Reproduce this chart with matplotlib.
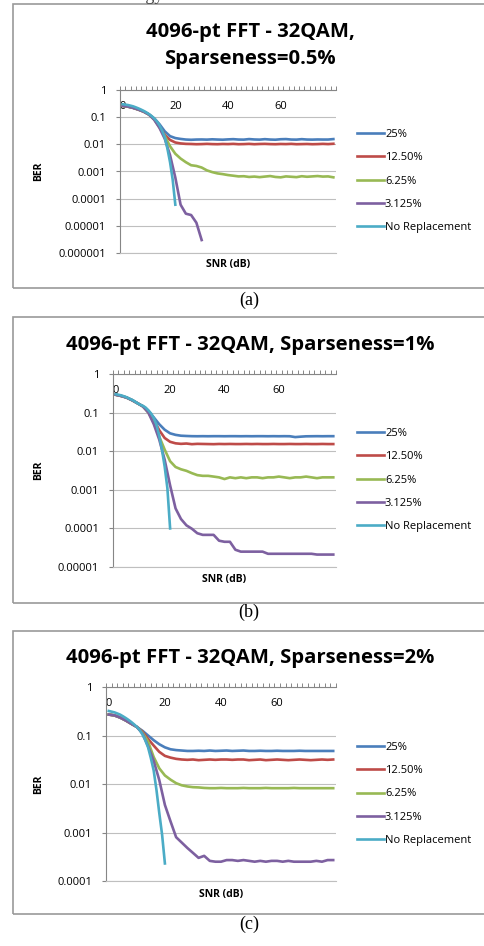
import matplotlib
matplotlib.use('Agg')
import matplotlib.pyplot as plt
from matplotlib.patches import Rectangle
from matplotlib.ticker import FixedLocator, FixedFormatter, NullLocator

W, H = 485, 946

# SNR (dB) values
snr = list(range(0, 82, 2))
snr_fine = list(range(0, 21))
snr_short = list(range(0, 32, 2))

labels = ['25%', '12.50%', '6.25%', '3.125%', 'No Replacement']
colors = ['#4A7EBB', '#BE4B48', '#98B954', '#7D60A0', '#4BACC6']

# (a) sparseness 0.5%
blue_a = [0.26, 0.245, 0.22, 0.19, 0.16, 0.125, 0.09, 0.055, 0.03, 0.02,
          0.017, 0.0158, 0.015, 0.0147, 0.015, 0.0151, 0.0149, 0.0153, 0.015, 0.0148,
          0.0152, 0.0155, 0.015, 0.0149, 0.0156, 0.0151, 0.0149, 0.0155, 0.015, 0.0148,
          0.0154, 0.0156, 0.015, 0.0149, 0.0155, 0.015, 0.0149, 0.0151, 0.015, 0.015,
          0.0156]
red_a = [0.26, 0.245, 0.22, 0.19, 0.16, 0.125, 0.085, 0.045, 0.022, 0.0145,
         0.0117, 0.0108, 0.0104, 0.0103, 0.0101, 0.0102, 0.0104, 0.0102, 0.0101, 0.0103,
         0.0102, 0.0104, 0.0101, 0.0102, 0.0104, 0.0101, 0.0103, 0.0104, 0.0102, 0.0101,
         0.0103, 0.0102, 0.0104, 0.0101, 0.0102, 0.0103, 0.0101, 0.0102, 0.0104, 0.0102,
         0.0105]
green_a = [0.26, 0.245, 0.22, 0.19, 0.16, 0.125, 0.082, 0.042, 0.02, 0.0085,
           0.0045, 0.003, 0.0022, 0.0017, 0.0016, 0.0014, 0.0011, 0.00095, 0.00085, 0.0008,
           0.00074, 0.0007, 0.00066, 0.00067, 0.00063, 0.00065, 0.00062, 0.00065, 0.00068, 0.00063,
           0.00061, 0.00066, 0.00064, 0.00062, 0.00067, 0.00064, 0.00066, 0.00068, 0.00065, 0.00066,
           0.00061]
purple_a = [0.26, 0.245, 0.22, 0.19, 0.16, 0.125, 0.08, 0.04, 0.016, 0.004,
            0.0006, 0.00006, 0.000028, 0.000025, 0.000013, 0.000003]
cyan_a = [0.3, 0.29, 0.28, 0.265, 0.25, 0.23, 0.21, 0.19, 0.17, 0.15,
          0.13, 0.11, 0.09, 0.07, 0.05, 0.032, 0.018, 0.007, 0.0022, 0.0005, 0.00006]

# (b) sparseness 1%
blue_b = [0.29, 0.27, 0.245, 0.21, 0.175, 0.145, 0.11, 0.075, 0.05, 0.036,
          0.029, 0.0265, 0.0252, 0.0248, 0.0245, 0.0244, 0.0245, 0.0244, 0.0245, 0.0245,
          0.0244, 0.0245, 0.0245, 0.0244, 0.0245, 0.0244, 0.0245, 0.0245, 0.0244, 0.0245,
          0.0244, 0.0245, 0.0244, 0.0232, 0.0238, 0.0243, 0.0244, 0.0245, 0.0244, 0.0245,
          0.0245]
red_b = [0.29, 0.27, 0.245, 0.21, 0.175, 0.145, 0.105, 0.065, 0.035, 0.022,
         0.0175, 0.016, 0.0155, 0.0158, 0.0152, 0.0155, 0.0154, 0.0153, 0.0152, 0.0154,
         0.0153, 0.0154, 0.0153, 0.0153, 0.0154, 0.0153, 0.0154, 0.0153, 0.0153, 0.0154,
         0.0153, 0.0153, 0.0154, 0.0153, 0.0153, 0.0154, 0.0153, 0.0153, 0.0154, 0.0153,
         0.0153]
green_b = [0.29, 0.27, 0.245, 0.21, 0.175, 0.145, 0.1, 0.055, 0.024, 0.011,
           0.0055, 0.0039, 0.0034, 0.0031, 0.0027, 0.0024, 0.0023, 0.0023, 0.0022, 0.0021,
           0.0019, 0.0021, 0.002, 0.0021, 0.002, 0.0021, 0.0021, 0.002, 0.0021, 0.0021,
           0.0022, 0.0021, 0.002, 0.0021, 0.0021, 0.0022, 0.0021, 0.002, 0.0021, 0.0021,
           0.0021]
purple_b = [0.29, 0.27, 0.245, 0.21, 0.175, 0.145, 0.1, 0.05, 0.02, 0.006,
            0.0013, 0.00033, 0.000175, 0.00012, 0.000098, 0.000075, 0.000068, 0.000068, 0.000068, 0.000048,
            0.000045, 0.000045, 0.000028, 0.000025, 0.000025, 0.000025, 0.000025, 0.000025, 0.000022, 0.000022,
            0.000022, 0.000022, 0.000022, 0.000022, 0.000022, 0.000022, 0.000022, 0.000021, 0.000021, 0.000021,
            0.000021]
cyan_b = [0.3, 0.29, 0.28, 0.265, 0.25, 0.23, 0.215, 0.195, 0.175, 0.16,
          0.15, 0.135, 0.115, 0.095, 0.072, 0.048, 0.025, 0.011, 0.004, 0.0011, 0.0001]

# (c) sparseness 2%
blue_c = [0.27, 0.26, 0.235, 0.205, 0.175, 0.15, 0.125, 0.1, 0.08, 0.066,
          0.057, 0.052, 0.05, 0.049, 0.048, 0.048, 0.0485, 0.048, 0.049, 0.048,
          0.0485, 0.049, 0.048, 0.0485, 0.049, 0.048, 0.048, 0.0485, 0.048, 0.048,
          0.0485, 0.048, 0.048, 0.048, 0.0485, 0.048, 0.048, 0.048, 0.048, 0.048,
          0.048]
red_c = [0.27, 0.26, 0.235, 0.205, 0.175, 0.15, 0.12, 0.085, 0.062, 0.046,
         0.038, 0.035, 0.033, 0.032, 0.0315, 0.032, 0.031, 0.0315, 0.032, 0.0315,
         0.032, 0.032, 0.0315, 0.032, 0.032, 0.031, 0.0315, 0.032, 0.031, 0.0315,
         0.032, 0.0315, 0.031, 0.0315, 0.032, 0.0315, 0.031, 0.0315, 0.032, 0.0315,
         0.032]
green_c = [0.27, 0.26, 0.235, 0.205, 0.175, 0.15, 0.115, 0.075, 0.036, 0.021,
           0.015, 0.0123, 0.0104, 0.0094, 0.0089, 0.0086, 0.0085, 0.0083, 0.0082, 0.0082,
           0.0083, 0.0082, 0.0082, 0.0082, 0.0083, 0.0082, 0.0082, 0.0082, 0.0083, 0.0082,
           0.0082, 0.0082, 0.0082, 0.0083, 0.0082, 0.0082, 0.0082, 0.0082, 0.0082, 0.0082,
           0.0082]
purple_c = [0.27, 0.26, 0.235, 0.205, 0.175, 0.15, 0.11, 0.06, 0.03, 0.012,
            0.0037, 0.0017, 0.0008, 0.00062, 0.00048, 0.00038, 0.0003, 0.00033, 0.00026, 0.00025,
            0.00025, 0.00027, 0.00027, 0.00026, 0.00027, 0.00026, 0.00025, 0.00026, 0.00025, 0.00026,
            0.00026, 0.00025, 0.00026, 0.00025, 0.00025, 0.00025, 0.00025, 0.00026, 0.00025, 0.00027,
            0.00027]
cyan_c = [0.32, 0.31, 0.3, 0.285, 0.27, 0.25, 0.23, 0.21, 0.19, 0.17,
          0.15, 0.13, 0.105, 0.08, 0.057, 0.034, 0.019, 0.0075, 0.0025, 0.0009, 0.00023]

ytick_a = [1, 0.1, 0.01, 0.001, 0.0001, 0.00001, 0.000001]
ylab_a = ['1', '0.1', '0.01', '0.001', '0.0001', '0.00001', '0.000001']
ytick_b = [1, 0.1, 0.01, 0.001, 0.0001, 0.00001]
ylab_b = ['1', '0.1', '0.01', '0.001', '0.0001', '0.00001']
ytick_c = [1, 0.1, 0.01, 0.001, 0.0001]
ylab_c = ['1', '0.1', '0.01', '0.001', '0.0001']
xtick = [0, 20, 40, 60]

FONT = 'Open Sans'
GRID = '#BFBFBF'
AXC = '#868686'


def fx(x):
    return x / W


def fy(y):
    return 1 - y / H


fig = plt.figure(figsize=(W / 100, H / 100), dpi=100)
fig.patch.set_facecolor('white')

# cut-off text line from the page above
fig.text(fx(167), fy(0), 'selection technology.', ha='right', va='baseline',
         family='Liberation Serif', fontsize=13, color='#444444')

panels = [
    dict(box=(4, 288), ax=(120, 90, 336, 253), title=['4096-pt FFT - 32QAM,', 'Sparseness=0.5%'],
         title_y=[32, 59], yt=ytick_a, yl=ylab_a,
         series=[(snr, blue_a), (snr, red_a), (snr, green_a), (snr_short, purple_a), (snr_fine, cyan_a)],
         leg=181, snr_y=265, cap='(a)', cap_y=300),
    dict(box=(317, 603), ax=(113, 374, 336, 567), title=['4096-pt FFT - 32QAM, Sparseness=1%'],
         title_y=[345], yt=ytick_b, yl=ylab_b,
         series=[(snr, blue_b), (snr, red_b), (snr, green_b), (snr, purple_b), (snr_fine, cyan_b)],
         leg=480, snr_y=579, cap='(b)', cap_y=612),
    dict(box=(631, 914), ax=(106, 687, 336, 881), title=['4096-pt FFT - 32QAM, Sparseness=2%'],
         title_y=[658], yt=ytick_c, yl=ylab_c,
         series=[(snr, blue_c), (snr, red_c), (snr, green_c), (snr, purple_c), (snr_fine, cyan_c)],
         leg=794, snr_y=894, cap='(c)', cap_y=924),
]

for p in panels:
    top, bot = p['box']
    fig.add_artist(Rectangle((fx(13), fy(bot)), fx(490) - fx(13), fy(top) - fy(bot),
                             transform=fig.transFigure, fill=False, edgecolor='#9A9A9A', lw=1.2))
    l, t, r, b = p['ax']
    ax = fig.add_axes([fx(l), fy(b), (r - l) / W, (b - t) / H])
    for (xs, ys), c, lab in zip(p['series'], colors, labels):
        ax.plot(xs, ys, color=c, lw=1.9, label=lab, solid_joinstyle='round')
    ax.set_yscale('log')
    ax.set_ylim(p['yt'][-1], 1)
    ax.set_xlim(-1, 81)
    ax.yaxis.set_major_locator(FixedLocator(p['yt']))
    ax.yaxis.set_major_formatter(FixedFormatter(p['yl']))
    ax.yaxis.set_minor_locator(NullLocator())
    ax.tick_params(axis='y', length=3, width=0.8, color=AXC, pad=7, labelsize=8)
    ax.yaxis.grid(True, color=GRID, lw=0.8)
    ax.set_axisbelow(True)

    ax.xaxis.set_ticks_position('top')
    ax.xaxis.set_major_locator(FixedLocator(xtick))
    ax.xaxis.set_minor_locator(FixedLocator(list(range(-1, 83, 2))))
    ax.xaxis.remove_overlapping_locs = False
    ax.tick_params(axis='x', which='major', length=0, labeltop=True, labelbottom=False,
                   pad=-16, labelsize=8)
    ax.tick_params(axis='x', which='minor', length=3, width=0.7, color=AXC, direction='out')

    ax.spines['right'].set_visible(False)
    ax.spines['top'].set_color(AXC)
    ax.spines['left'].set_color(AXC)
    ax.spines['bottom'].set_color(GRID)
    for s in ['top', 'left', 'bottom']:
        ax.spines[s].set_linewidth(0.8)
    for lbl in ax.get_xticklabels() + ax.get_yticklabels():
        lbl.set_family(FONT)

    ax.legend(loc='center left', bbox_to_anchor=(fx(357), fy(p['leg'])), bbox_transform=fig.transFigure,
              frameon=False, prop={'family': FONT, 'size': 8}, handlelength=2.4, handletextpad=0.12,
              labelspacing=1.1, borderpad=0, borderaxespad=0)

    for line, ty in zip(p['title'], p['title_y']):
        fig.text(fx(250), fy(ty), line, ha='center', va='center', family=FONT,
                 fontweight='bold', fontsize=14.6)
    fig.text(fx(39), fy((t + b) / 2), 'BER', rotation=90, ha='center', va='center',
             family=FONT, fontweight='bold', fontsize=7.5)
    fig.text(fx((l + r) / 2), fy(p['snr_y']), 'SNR (dB)', ha='center', va='center',
             family=FONT, fontweight='bold', fontsize=7.5)
    fig.text(fx(249), fy(p['cap_y']), p['cap'], ha='center', va='center',
             family='Liberation Serif', fontsize=13)

fig.savefig('out.png', dpi=100)
